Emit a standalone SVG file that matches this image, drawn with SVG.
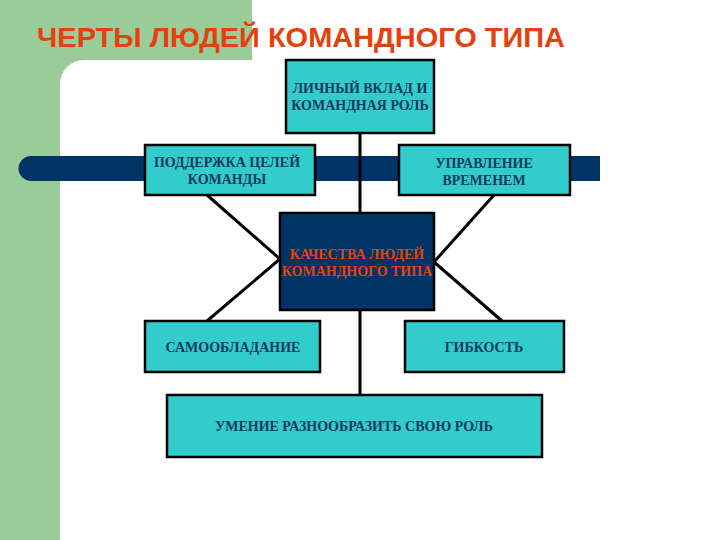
<svg xmlns="http://www.w3.org/2000/svg" width="720" height="540" viewBox="0 0 720 540">
<style>
.box{fill:#33CCCC;stroke:#000;stroke-width:2.5}
.ctr{fill:#003366;stroke:#000;stroke-width:2.5}
.t{font-family:"Liberation Serif","Times New Roman",serif;font-weight:bold;font-size:14px;fill:#0B3A5C;text-anchor:middle}
.tr{fill:#E8400C}
.ln{stroke:#000;stroke-width:3;fill:none}
</style>
<rect width="720" height="540" fill="#fff"/>
<path d="M0,0 H252 V60 H84 A24,24 0 0 0 60,84 V540 H0 Z" fill="#99CC99"/>
<path d="M31,156 H600 V181 H31 A12.5,12.5 0 0 1 31,156 Z" fill="#003366"/>
<text x="37" y="47" font-family="'Liberation Sans',Arial,sans-serif" font-weight="bold" font-size="28" fill="#E8400C" textLength="528" lengthAdjust="spacingAndGlyphs">ЧЕРТЫ ЛЮДЕЙ КОМАНДНОГО ТИПА</text>
<g id="connectors">
<line class="ln" x1="360" y1="133" x2="360" y2="395"/>
<polyline class="ln" points="207,195 280,259 207,321"/>
<polyline class="ln" points="494,195 434,262 502,321"/>
</g>
<g id="n_top"><rect class="box" x="286" y="60" width="148" height="73"/><text class="t" x="360" y="93">ЛИЧНЫЙ ВКЛАД И</text><text class="t" x="360" y="110">КОМАНДНАЯ РОЛЬ</text></g>
<g id="n_support"><rect class="box" x="145" y="145" width="170" height="50"/><text class="t" x="227" y="167">ПОДДЕРЖКА ЦЕЛЕЙ</text><text class="t" x="227" y="184">КОМАНДЫ</text></g>
<g id="n_time"><rect class="box" x="399" y="145" width="171" height="50"/><text class="t" x="484" y="168">УПРАВЛЕНИЕ</text><text class="t" x="484" y="185">ВРЕМЕНЕМ</text></g>
<g id="n_center"><rect class="ctr" x="280" y="213" width="154" height="97"/><text class="t tr" x="357" y="259">КАЧЕСТВА ЛЮДЕЙ</text><text class="t tr" x="357" y="276">КОМАНДНОГО ТИПА</text></g>
<g id="n_self"><rect class="box" x="145" y="321" width="175" height="51"/><text class="t" x="233" y="352">САМООБЛАДАНИЕ</text></g>
<g id="n_flex"><rect class="box" x="405" y="321" width="159" height="51"/><text class="t" x="484" y="352">ГИБКОСТЬ</text></g>
<g id="n_bottom"><rect class="box" x="167" y="395" width="375" height="62"/><text class="t" x="354" y="431">УМЕНИЕ РАЗНООБРАЗИТЬ СВОЮ РОЛЬ</text></g>
</svg>
